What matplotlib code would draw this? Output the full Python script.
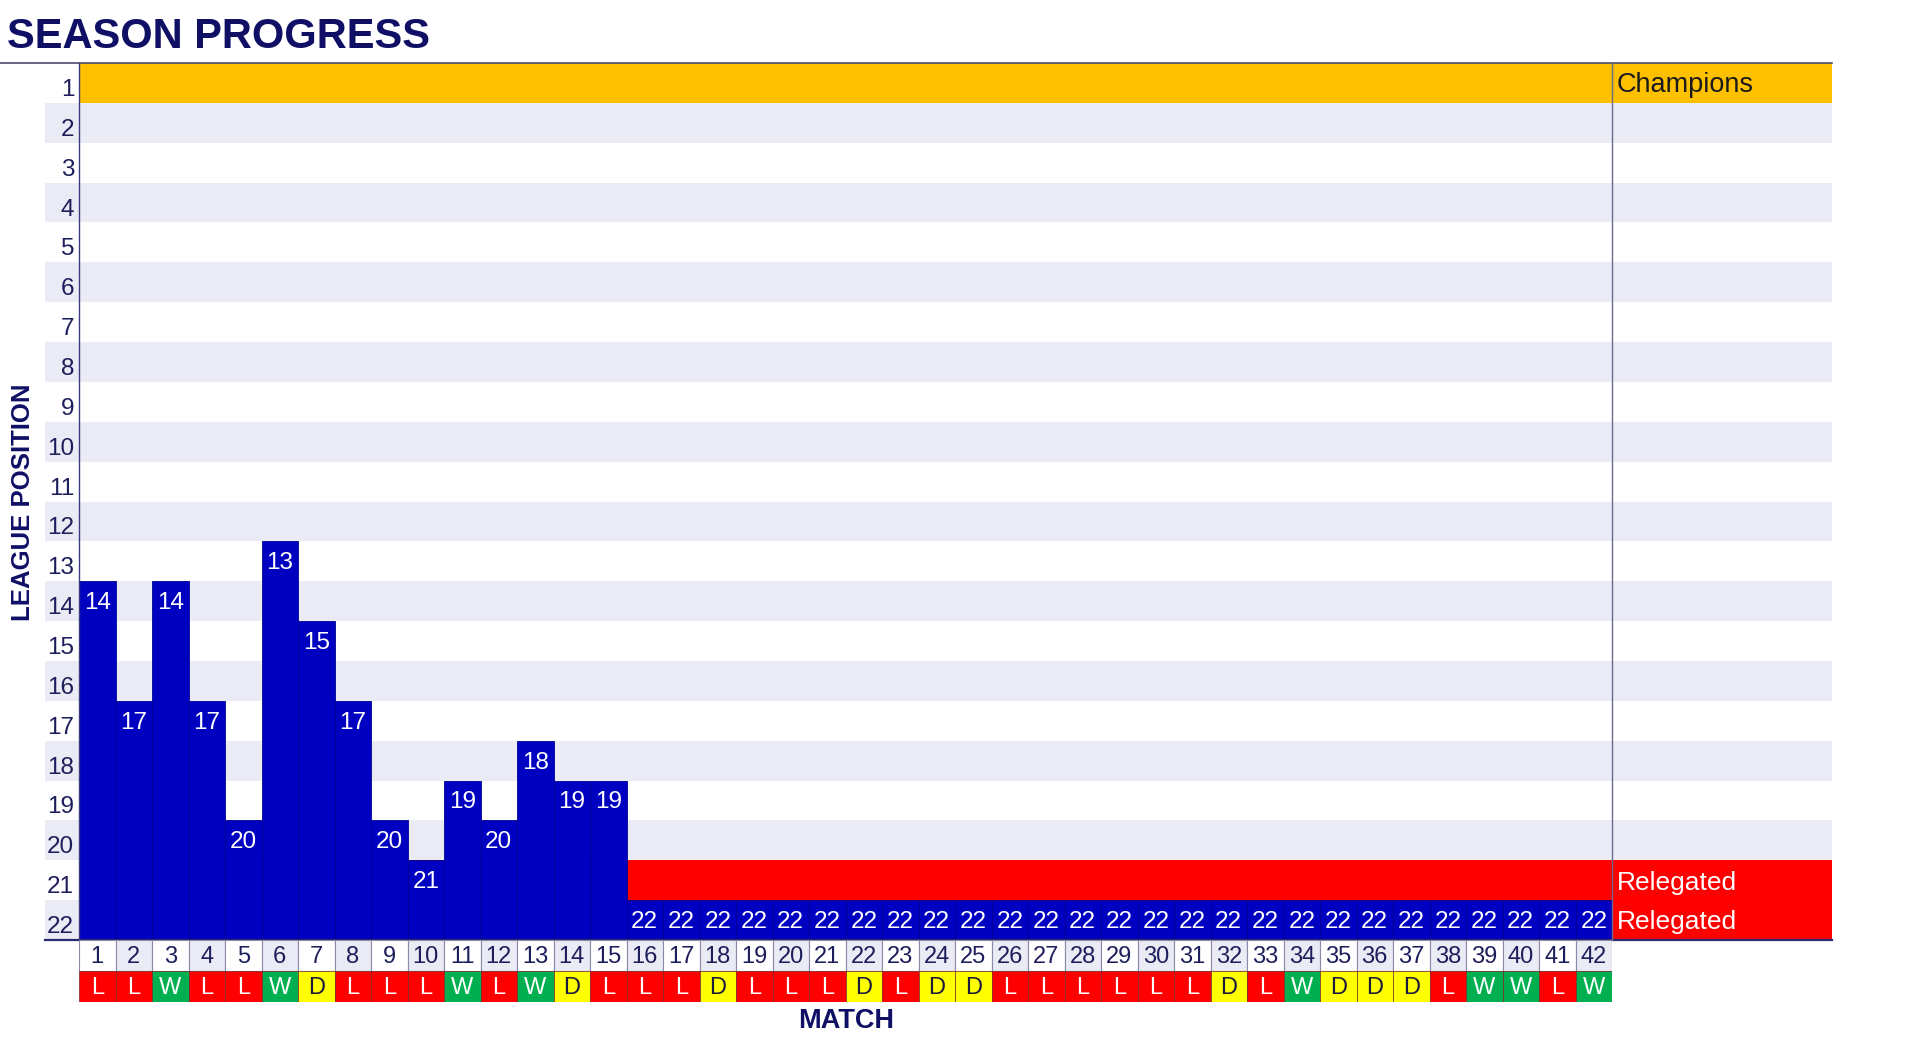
import numpy as np
import matplotlib.pyplot as plt
import matplotlib.transforms as mtransforms
from matplotlib.patches import Rectangle

# season data
matches = list(range(1, 43))
positions = [14, 17, 14, 17, 20, 13, 15, 17, 20, 21, 19, 20, 18, 19, 19] + [22] * 27
results = ['L', 'L', 'W', 'L', 'L', 'W', 'D', 'L', 'L', 'L', 'W', 'L', 'W', 'D', 'L',
           'L', 'L', 'D', 'L', 'L', 'L', 'D', 'L', 'D', 'D', 'L', 'L', 'L', 'L', 'L',
           'L', 'D', 'L', 'W', 'D', 'D', 'D', 'L', 'W', 'W', 'L', 'W']
n_teams = 22
zone_labels = {1: 'Champions', 21: 'Relegated', 22: 'Relegated'}

NAVY = '#0f0f66'
TXT = '#1e1e5c'
BAR = '#0000c0'
LAV = '#ebebf5'
GOLD = '#ffc000'
RED = '#ff0000'
res_color = {'L': '#ff0000', 'W': '#00b050', 'D': '#ffff00'}
res_text = {'L': 'white', 'W': 'white', 'D': '#1a1a3a'}

W, H = 1920, 1041
fig = plt.figure(figsize=(W / 100, H / 100), dpi=100)
plt.rcParams['font.family'] = ['Liberation Sans', 'DejaVu Sans']

def box(x0, y0, x1, y1):
    return [x0 / W, 1 - y1 / H, (x1 - x0) / W, (y1 - y0) / H]

ax = fig.add_axes(box(79, 63, 1612, 940))
tab = fig.add_axes(box(79, 940, 1612, 1002))

ax.set_xlim(0.5, 42.5)
ax.set_ylim(n_teams + 0.5, 0.5)
trans = mtransforms.blended_transform_factory(ax.transAxes, ax.transData)
left_ext = (45 - 79) / 1533
right_ext = (1832 - 79) / 1533

# row bands
for r in range(1, n_teams + 1):
    if r % 2 == 0:
        ax.add_patch(Rectangle((left_ext, r - 0.5), right_ext - left_ext, 1, transform=trans,
                               color=LAV, lw=0, zorder=0, clip_on=False))
    if r == 1:
        ax.add_patch(Rectangle((0, r - 0.5), right_ext, 1, transform=trans,
                               color=GOLD, lw=0, zorder=0.5, clip_on=False))
    if r >= 21:
        ax.add_patch(Rectangle((0, r - 0.5), right_ext, 1, transform=trans,
                               color=RED, lw=0, zorder=0.5, clip_on=False))

# bars
pos = np.array(positions)
ax.bar(matches, (pos - 0.5) - (n_teams + 0.5), bottom=n_teams + 0.5, width=1,
       color=BAR, edgecolor='#000090', linewidth=0.6, zorder=2)
for m, p in zip(matches, positions):
    ax.text(m, p + 0.05, str(p), ha='center', va='center', color='white', fontsize=17.5, zorder=3)

for r, lab in zone_labels.items():
    ax.text(1.0033, r + 0.06, lab, transform=trans, ha='left', va='center',
            fontsize=19.5 if r == 1 else 19,
            color='#1a1a1a' if r == 1 else 'white', zorder=3, clip_on=False)

# frame lines
ax.plot([-79 / 1533, right_ext], [1, 1], transform=ax.transAxes, color='#4a4a70', lw=1.2, clip_on=False, zorder=4)
ax.plot([left_ext, right_ext], [0, 0], transform=ax.transAxes, color='#2a2a70', lw=1.6, clip_on=False, zorder=4)
ax.plot([0, 0], [0, 1], transform=ax.transAxes, color='#3a3a80', lw=1.0, clip_on=False, zorder=4)
ax.plot([1, 1], [0, 1], transform=ax.transAxes, color='#6a6a90', lw=1.0, clip_on=False, zorder=4)

ax.set_yticks(range(1, n_teams + 1))
ax.set_yticklabels([str(i) for i in range(1, n_teams + 1)], fontsize=17.5, color=TXT)
ax.tick_params(axis='y', length=0, pad=3.5)
shift = mtransforms.ScaledTranslation(0, -0.045, fig.dpi_scale_trans)
for lbl in ax.get_yticklabels():
    lbl.set_transform(lbl.get_transform() + shift)
ax.set_xticks([])
for s in ax.spines.values():
    s.set_visible(False)

# match / result table
tab.set_xlim(0.5, 42.5)
tab.set_ylim(2, 0)
num_bg = [LAV if m % 2 == 0 else 'white' for m in matches]
tab.bar(matches, 1, bottom=0, width=1, color=num_bg, edgecolor='#8a8aa8', linewidth=0.8)
tab.bar(matches, 1, bottom=1, width=1, color=[res_color[r] for r in results],
        edgecolor='#7a2a2a', linewidth=0.5)
for m, r in zip(matches, results):
    tab.text(m, 0.55, str(m), ha='center', va='center', fontsize=17, color=TXT)
    tab.text(m, 1.55, r, ha='center', va='center', fontsize=17, color=res_text[r])
tab.axis('off')

fig.text(7 / W, 1 - 48 / H, 'SEASON PROGRESS', ha='left', va='baseline', fontsize=30,
         fontweight='bold', color=NAVY)
fig.text(846 / W, 1 - 1021 / H, 'MATCH', ha='center', va='center', fontsize=19.5,
         fontweight='bold', color=NAVY)
fig.text(23 / W, 1 - 502 / H, 'LEAGUE POSITION', ha='center', va='center', rotation=90,
         fontsize=18.5, fontweight='bold', color=NAVY)

fig.savefig('out.png', dpi=100)
